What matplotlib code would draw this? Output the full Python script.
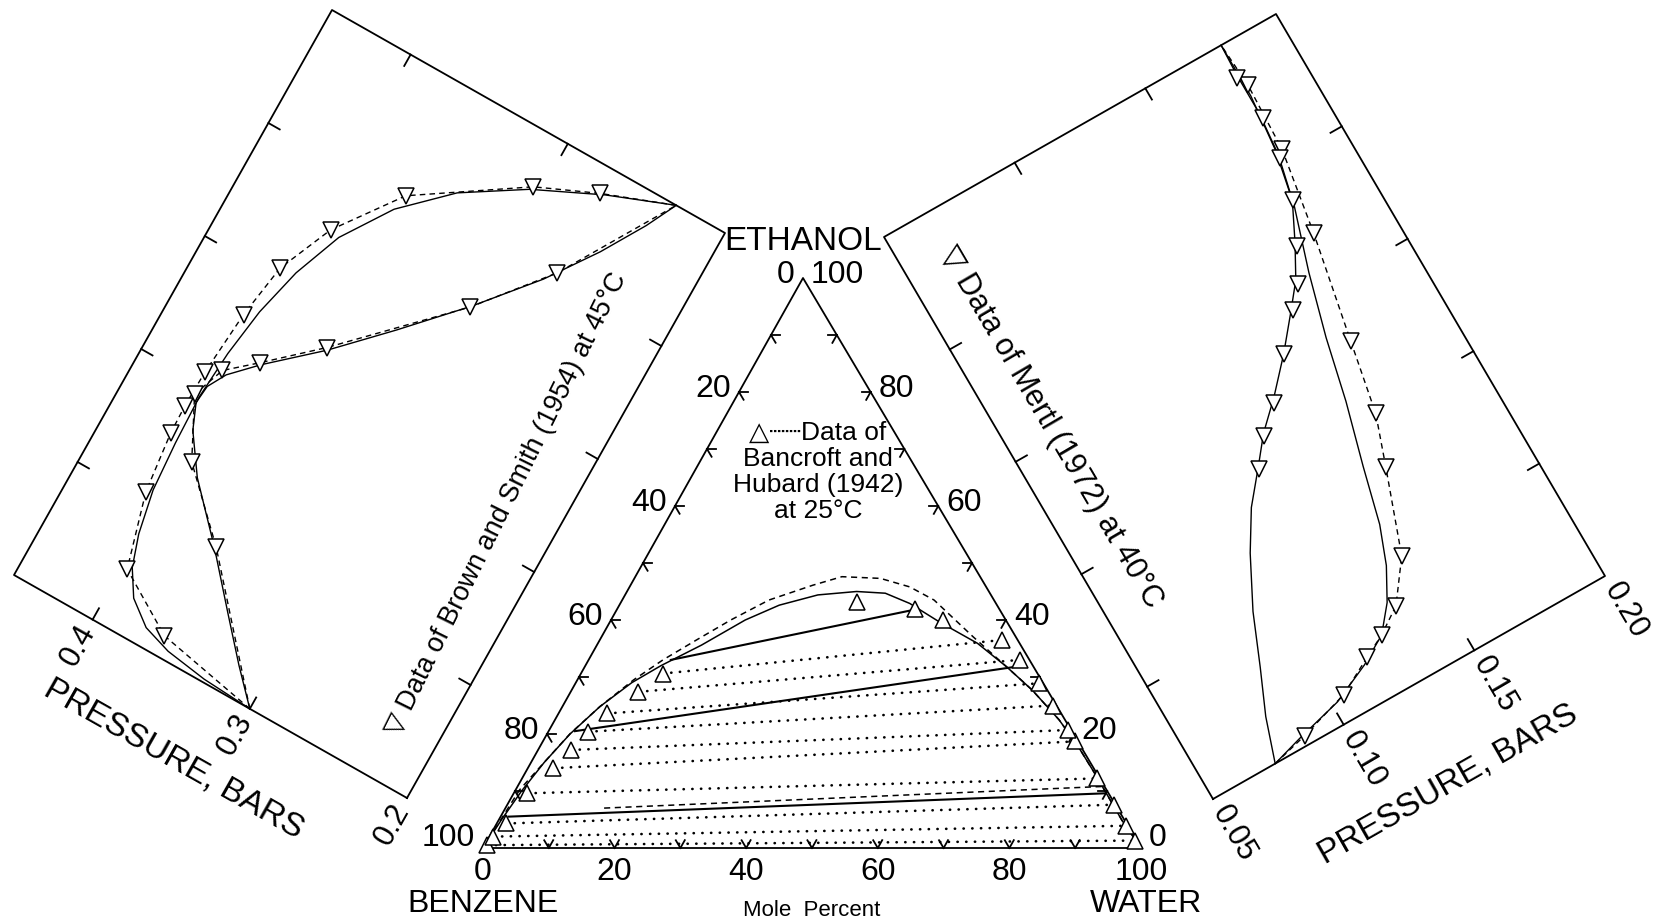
import numpy as np
import matplotlib
matplotlib.use('Agg')
import matplotlib.pyplot as plt
from matplotlib.transforms import Affine2D

plt.rcParams['font.family'] = ['Liberation Sans', 'DejaVu Sans']

# ---- ethanol(1)-benzene(2) at 45 C ; x = mole fraction ethanol, p in bars
eb_x_bub = [0.0, 0.005, 0.015, 0.03, 0.06, 0.10, 0.15, 0.22, 0.30, 0.38, 0.46, 0.54, 0.62, 0.70, 0.78, 0.85, 0.91, 0.96, 1.0]
eb_p_bub = [0.300, 0.330, 0.355, 0.372, 0.386, 0.395, 0.401, 0.406, 0.408, 0.409, 0.407, 0.403, 0.396, 0.385, 0.366, 0.340, 0.306, 0.268, 0.231]
eb_x_dew = [0.0, 0.05, 0.11, 0.19, 0.27, 0.33, 0.37, 0.40, 0.43, 0.47, 0.54, 0.62, 0.71, 0.80, 0.88, 0.95, 1.0]
eb_p_dew = [0.300, 0.317, 0.336, 0.361, 0.388, 0.403, 0.409, 0.408, 0.402, 0.388, 0.360, 0.332, 0.302, 0.275, 0.255, 0.240, 0.231]
# Brown and Smith (1954)
eb_x_bub_dat = [0.0, 0.033, 0.094, 0.212, 0.31, 0.357, 0.417, 0.524, 0.614, 0.704, 0.807, 0.916, 0.958, 1.0]
eb_p_bub_dat = [0.300, 0.361, 0.397, 0.409, 0.413, 0.4135, 0.413, 0.410, 0.405, 0.391, 0.364, 0.305, 0.271, 0.231]
eb_x_dew_dat = [0.0, 0.191, 0.287, 0.38, 0.433, 0.472, 0.543, 0.706, 0.819, 1.0]
eb_p_dew_dat = [0.300, 0.360, 0.395, 0.412, 0.405, 0.389, 0.361, 0.303, 0.270, 0.231]
eb_p_range = [0.20, 0.45]
eb_p_labels = [0.2, 0.3, 0.4]

# ---- ethanol(1)-water(2) at 40 C
ew_x_bub = [0.0, 0.015, 0.035, 0.064, 0.091, 0.13, 0.18, 0.24, 0.33, 0.43, 0.53, 0.63, 0.73, 0.82, 0.91, 1.0]
ew_p_bub = [0.0738, 0.085, 0.102, 0.116, 0.126, 0.133, 0.139, 0.144, 0.149, 0.155, 0.160, 0.166, 0.173, 0.177, 0.179, 0.179]
ew_x_dew = [0.0, 0.07, 0.14, 0.22, 0.30, 0.36, 0.41, 0.45, 0.49, 0.54, 0.59, 0.63, 0.68, 0.74, 0.81, 0.88, 0.95, 1.0]
ew_p_dew = [0.0738, 0.079, 0.0857, 0.093, 0.102, 0.110, 0.119, 0.126, 0.135, 0.145, 0.154, 0.161, 0.167, 0.1735, 0.177, 0.1785, 0.1785, 0.179]
# Mertl (1972)
ew_x_bub_dat = [0.0, 0.015, 0.04, 0.072, 0.091, 0.119, 0.181, 0.312, 0.391, 0.507, 0.679, 0.815, 0.926, 1.0]
ew_p_bub_dat = [0.0738, 0.087, 0.105, 0.118, 0.126, 0.135, 0.145, 0.1554, 0.1615, 0.1665, 0.174, 0.179, 0.180, 0.179]
ew_x_dew_dat = [0.405, 0.446, 0.482, 0.54, 0.592, 0.623, 0.674, 0.739, 0.804, 0.871, 0.945]
ew_p_dew_dat = [0.1186, 0.1256, 0.134, 0.145, 0.155, 0.161, 0.167, 0.1736, 0.177, 0.1786, 0.178]
ew_p_range = [0.05, 0.20]
ew_p_labels = ['0.05', '0.10', '0.15', '0.20']

# ---- benzene-ethanol-water at 25 C ; (water, ethanol) mole fractions
bin_w = [0.0, 0.004, 0.010, 0.020, 0.035, 0.057, 0.085, 0.115, 0.159, 0.204, 0.243, 0.293, 0.349, 0.394,
         0.440, 0.500, 0.577, 0.641, 0.700, 0.766, 0.818, 0.869, 0.947, 1.0]
bin_e = [0.0, 0.050, 0.100, 0.150, 0.200, 0.248, 0.290, 0.320, 0.356, 0.400, 0.426, 0.444, 0.450, 0.447,
         0.429, 0.397, 0.359, 0.318, 0.277, 0.225, 0.178, 0.128, 0.049, 0.0]
bin2_w = [0.0, 0.003, 0.006, 0.021, 0.035, 0.057, 0.0855, 0.113, 0.147, 0.182, 0.223, 0.277, 0.314, 0.374,
          0.426, 0.474, 0.564, 0.641, 0.700, 0.766, 0.818, 0.869, 0.947, 1.0]
bin2_e = [0.0, 0.05, 0.102, 0.154, 0.201, 0.248, 0.295, 0.330, 0.365, 0.400, 0.435, 0.461, 0.476, 0.473,
          0.458, 0.435, 0.371, 0.318, 0.277, 0.225, 0.178, 0.128, 0.049, 0.0]
# Bancroft and Hubard (1942) tie lines: benzene-rich end, water-rich end
tie_w1 = [0.004, 0.006, 0.014, 0.020, 0.039, 0.050, 0.060, 0.073, 0.103, 0.124]
tie_e1 = [0.005, 0.020, 0.043, 0.096, 0.140, 0.172, 0.204, 0.236, 0.274, 0.306]
tie_w2 = [0.985, 0.958, 0.922, 0.874, 0.808, 0.788, 0.745, 0.705, 0.655, 0.612]
tie_e2 = [0.013, 0.039, 0.076, 0.122, 0.187, 0.207, 0.250, 0.289, 0.330, 0.365]
top_w = [0.358, 0.452, 0.505]
top_e = [0.432, 0.420, 0.400]
# calculated tie lines
calc_w1 = [0.012, 0.040, 0.125]
calc_e1 = [0.055, 0.205, 0.330]
calc_w2 = [0.900, 0.655, 0.452]
calc_e2 = [0.096, 0.318, 0.418]
calc2_w1 = [0.150]
calc2_e1 = [0.070]
calc2_w2 = [0.890]
calc2_e2 = [0.108]

# page frames (pixels)
TRI_B, TRI_W, TRI_E = (483, 848), (1141, 848), (803, 278)
LB_O, LB_X, LB_P = (407, 798), (725, 233), (14, 575)
RB_O, RB_X, RB_P = (1213, 799), (884, 237), (1605, 576)


def frame(o, a, b):
    o, a, b = (np.asarray(v, float) for v in (o, a, b))
    va, vb = a - o, b - o
    return Affine2D(np.array([[va[0], vb[0], o[0]],
                              [va[1], vb[1], o[1]],
                              [0.0, 0.0, 1.0]]))


def unit(p, q):
    v = np.asarray(q, float) - np.asarray(p, float)
    return v / np.hypot(*v)


def angle(v):
    return np.degrees(np.arctan2(-v[1], v[0]))


fig = plt.figure(figsize=(16.54, 9.22), dpi=100)
ax = fig.add_axes([0, 0, 1, 1])
ax.set_xlim(0, 1654)
ax.set_ylim(922, 0)
ax.axis('off')

LW = 1.3
TICK = 13

def tick(p, d, n=TICK):
    ax.plot([p[0], p[0] + n * d[0]], [p[1], p[1] + n * d[1]], color='k', lw=LW)


# ---------------- ternary triangle
tern = frame(TRI_B, TRI_W, TRI_E)
tt = tern + ax.transData
ax.plot([0, 1, 0, 0], [0, 0, 1, 0], color='k', lw=LW, transform=tt)

for k in range(1, 10):
    f = k / 10
    p = tern.transform((f, 0))
    tick(p, unit(TRI_B, TRI_E), 9); tick(p, unit(TRI_W, TRI_E), 9)
    p = tern.transform((0, f))
    tick(p, unit(TRI_B, TRI_W), 9); tick(p, unit(TRI_E, TRI_W), 9)
    p = tern.transform((1 - f, f))
    tick(p, unit(TRI_W, TRI_B), 9); tick(p, unit(TRI_E, TRI_B), 9)

NUM = 23
for k in range(6):
    f = k / 5
    p = tern.transform((f, 0))
    ax.text(p[0], p[1] + 24, f'{int(round(f * 100))}', ha='center', va='center', fontsize=NUM)
    p = tern.transform((0, f))
    dy = -10 if k == 0 else -3
    ax.text(p[0] - 8, p[1] + dy, f'{int(round((1 - f) * 100))}', ha='right', va='center', fontsize=NUM)
    p = tern.transform((1 - f, f))
    ax.text(p[0] + 8, p[1] + dy, f'{int(round(f * 100))}', ha='left', va='center', fontsize=NUM)

pB, pW, pE = tern.transform((0, 0)), tern.transform((1, 0)), tern.transform((0, 1))
ax.text(pE[0], pE[1] - 37, 'ETHANOL', ha='center', va='center', fontsize=24)
ax.text(pB[0], pB[1] + 56, 'BENZENE', ha='center', va='center', fontsize=23)
ax.text(pW[0] + 5, pW[1] + 56, 'WATER', ha='center', va='center', fontsize=23)
ax.text((pB[0] + pW[0]) / 2, pB[1] + 62, 'Mole  Percent', ha='center', va='center', fontsize=16)

# binodal curves
ax.plot(bin2_w, bin2_e, color='k', lw=1.1, ls=(0, (4, 3)), transform=tt)
ax.plot(bin_w, bin_e, color='k', lw=1.1, transform=tt)
# tie lines
for i in range(len(tie_w1)):
    ax.plot([tie_w1[i], tie_w2[i]], [tie_e1[i], tie_e2[i]], color='k', lw=1.9,
            ls=(0, (0.1, 3.2)), dash_capstyle='round', transform=tt)
for i in range(len(calc_w1)):
    ax.plot([calc_w1[i], calc_w2[i]], [calc_e1[i], calc_e2[i]], color='k', lw=1.5, transform=tt)
for i in range(len(calc2_w1)):
    ax.plot([calc2_w1[i], calc2_w2[i]], [calc2_e1[i], calc2_e2[i]], color='k', lw=1.1,
            ls=(0, (4, 3)), transform=tt)
mk = dict(marker='^', ms=11, mfc='white', mec='k', mew=1.1, ls='none', transform=tt)
ax.plot(tie_w1 + tie_w2 + top_w, tie_e1 + tie_e2 + top_e, **mk)

ax.text(818, 472, '\u25b3\u2508\u2508Data of\nBancroft and\nHubard (1942)\nat 25\u00b0C',
        ha='center', va='center', fontsize=19, linespacing=1.1)

# ---------------- left box: ethanol-benzene
lb = Affine2D().translate(0, -eb_p_range[0]).scale(1, 1 / (eb_p_range[1] - eb_p_range[0])) + frame(LB_O, LB_X, LB_P)
lt = lb + ax.transData
lo, hi = eb_p_range
ax.plot([0, 1, 1, 0, 0], [lo, lo, hi, hi, lo], color='k', lw=LW, transform=lt)
ux, up = unit(LB_O, LB_X), unit(LB_O, LB_P)
for x in [0.2, 0.4, 0.6, 0.8]:
    tick(lb.transform((x, lo)), up)
    tick(lb.transform((x, hi)), -up)
for p in [0.3, 0.4]:
    tick(lb.transform((0, p)), ux)
    tick(lb.transform((1, p)), -ux)
for p in eb_p_labels:
    c = lb.transform((0, p)) - 30 * ux
    ax.text(c[0], c[1], f'{p:.1f}', rotation=angle(ux), rotation_mode='anchor',
            ha='center', va='center', fontsize=22)
c = lb.transform((0, 0.323)) - 81 * ux
ax.text(c[0], c[1], 'PRESSURE, BARS', rotation=angle(-up), rotation_mode='anchor',
        ha='center', va='center', fontsize=24)
c = lb.transform((0.47, 0.232))
ax.text(c[0], c[1], '\u25bd Data of Brown and Smith (1954) at 45\u00b0C', rotation=angle(ux) + 3,
        rotation_mode='anchor', ha='center', va='center', fontsize=19.5)

ax.plot(eb_x_bub, eb_p_bub, color='k', lw=1.0, transform=lt)
ax.plot(eb_x_dew, eb_p_dew, color='k', lw=1.0, transform=lt)
ax.plot(eb_x_bub_dat, eb_p_bub_dat, color='k', lw=1.0, ls=(0, (4, 3)), transform=lt)
ax.plot(eb_x_dew_dat, eb_p_dew_dat, color='k', lw=1.0, ls=(0, (4, 3)), transform=lt)
vm = dict(marker='v', ms=11, mfc='white', mec='k', mew=1.1, ls='none')
ax.plot(eb_x_bub_dat[1:-1], eb_p_bub_dat[1:-1], transform=lt, **vm)
ax.plot(eb_x_dew_dat[1:-1], eb_p_dew_dat[1:-1], transform=lt, **vm)

# ---------------- right box: ethanol-water
rb = Affine2D().translate(0, -ew_p_range[0]).scale(1, 1 / (ew_p_range[1] - ew_p_range[0])) + frame(RB_O, RB_X, RB_P)
rt = rb + ax.transData
lo, hi = ew_p_range
ax.plot([0, 1, 1, 0, 0], [lo, lo, hi, hi, lo], color='k', lw=LW, transform=rt)
ux, up = unit(RB_O, RB_X), unit(RB_O, RB_P)
for x in [0.2, 0.4, 0.6, 0.8]:
    tick(rb.transform((x, lo)), up)
    tick(rb.transform((x, hi)), -up)
for p in [0.10, 0.15]:
    tick(rb.transform((0, p)), ux)
    tick(rb.transform((1, p)), -ux)
for s in ew_p_labels:
    c = rb.transform((0, float(s))) - 40 * ux
    ax.text(c[0], c[1], s, rotation=angle(-ux), rotation_mode='anchor',
            ha='center', va='center', fontsize=22)
c = rb.transform((0, 0.12)) - 103 * ux
ax.text(c[0], c[1], 'PRESSURE, BARS', rotation=angle(up), rotation_mode='anchor',
        ha='center', va='center', fontsize=24)
c = rb.transform((0.62, 0.066))
ax.text(c[0], c[1], '\u25bd Data of Mertl (1972) at 40\u00b0C', rotation=angle(-ux),
        rotation_mode='anchor', ha='center', va='center', fontsize=22)

ax.plot(ew_x_bub, ew_p_bub, color='k', lw=1.0, transform=rt)
ax.plot(ew_x_dew, ew_p_dew, color='k', lw=1.0, transform=rt)
ax.plot(ew_x_bub_dat, ew_p_bub_dat, color='k', lw=1.0, ls=(0, (4, 3)), transform=rt)
ax.plot(ew_x_bub_dat[1:-1], ew_p_bub_dat[1:-1], transform=rt, **vm)
ax.plot(ew_x_dew_dat, ew_p_dew_dat, transform=rt, **vm)

fig.savefig('out.png', dpi=100, facecolor='white')
